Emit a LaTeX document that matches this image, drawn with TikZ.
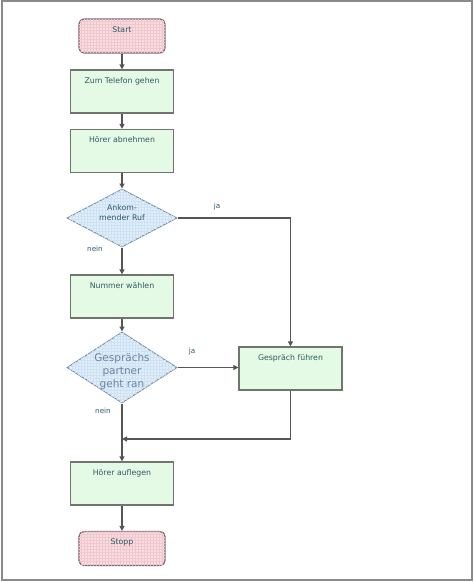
\documentclass[tikz,border=0pt]{standalone}
\usepackage{fontspec}
\setmainfont{DejaVu Sans}
\usetikzlibrary{shapes.geometric,arrows.meta,patterns}
\definecolor{termfill}{HTML}{F9DCE0}
\definecolor{termgrid}{HTML}{EFC8CE}
\definecolor{termdraw}{HTML}{7A6670}
\definecolor{procfill}{HTML}{E4FAE4}
\definecolor{procdraw}{HTML}{6E766E}
\definecolor{decfill}{HTML}{DEEEFA}
\definecolor{decgrid}{HTML}{D0E2F2}
\definecolor{decdraw}{HTML}{7890A8}
\definecolor{txt}{HTML}{2F5868}
\definecolor{bigtxt}{HTML}{6A86A0}
\definecolor{linec}{HTML}{555555}
\definecolor{framec}{HTML}{8A8A8A}
\newcommand{\dectext}[2]{\makebox[0pt]{\raisebox{#1}[0pt][0pt]{\parbox[c]{90pt}{\centering #2}}}}
\begin{document}
\begin{tikzpicture}[x=1pt,y=-1pt,
  every node/.style={font=\fontsize{7.8}{9}\selectfont, text=txt},
  term/.style={rectangle, rounded corners=5pt, draw=termdraw, line width=1.2pt,
    fill=termfill, postaction={pattern=grid, pattern color=termgrid},
    minimum width=86pt, inner xsep=2pt, inner ysep=4pt, text height=9pt, text depth=17pt},
  proc/.style={rectangle, draw=procdraw, line width=1.2pt, fill=procfill,
    minimum width=103pt, inner xsep=2pt, inner ysep=4pt, text height=9pt, text depth=26pt},
  dec/.style={diamond, draw=decdraw, line width=1pt, fill=decfill,
    postaction={pattern=grid, pattern color=decgrid},
    minimum width=110pt, inner sep=0pt},
  conn/.style={draw=linec, line width=1.3pt, -{Triangle[length=5pt,width=5pt]}},
  lbl/.style={font=\fontsize{7.2}{8}\selectfont, text=txt, inner sep=0pt}]
\useasboundingbox (0,0) rectangle (474,582);
\draw[framec, line width=2pt] (2,1) rectangle (472,580);

\node[term] (start) at (122,36) {Start};
\node[proc] (tel) at (122,91.5) {Zum Telefon gehen};
\node[proc] (abn) at (122,151) {Hörer abnehmen};
\node[dec, minimum height=58pt] (ruf) at (122,218) {\dectext{3.5pt}{\fontsize{7.8}{10}\selectfont Ankom-\\mender Ruf}};
\node[proc] (num) at (122,296.5) {Nummer wählen};
\node[dec, minimum height=71pt, text=bigtxt] (partner) at (122,367.5) {\dectext{-6pt}{\fontsize{10.5}{13}\selectfont Gesprächs\\partner\\geht ran}};
\node[proc] (gesp) at (290.5,368.5) {Gespräch führen};
\node[proc] (aufl) at (122,483.5) {Hörer auflegen};
\node[term] (stopp) at (122,548.5) {Stopp};
\coordinate (merge) at (122,439);

\draw[conn] (start) -- (tel);
\draw[conn] (tel) -- (abn);
\draw[conn] (abn) -- (ruf.north);
\draw[conn] (ruf.south) -- (num);
\draw[conn] (num) -- (partner.north);
\draw[conn] (ruf.east) -| (gesp.north);
\draw[conn] (partner.east) -- (partner.east -| gesp.west);
\draw[conn] (partner.south) -- (aufl.north);
\draw[conn] (gesp.south) |- (merge);
\draw[conn] (aufl) -- (stopp);

\node[lbl] (ja1) at (217,207) {ja};
\node[lbl] (nein1) at (95,249) {nein};
\node[lbl] (ja2) at (192,352) {ja};
\node[lbl] (nein2) at (103,411) {nein};
\end{tikzpicture}
\end{document}
